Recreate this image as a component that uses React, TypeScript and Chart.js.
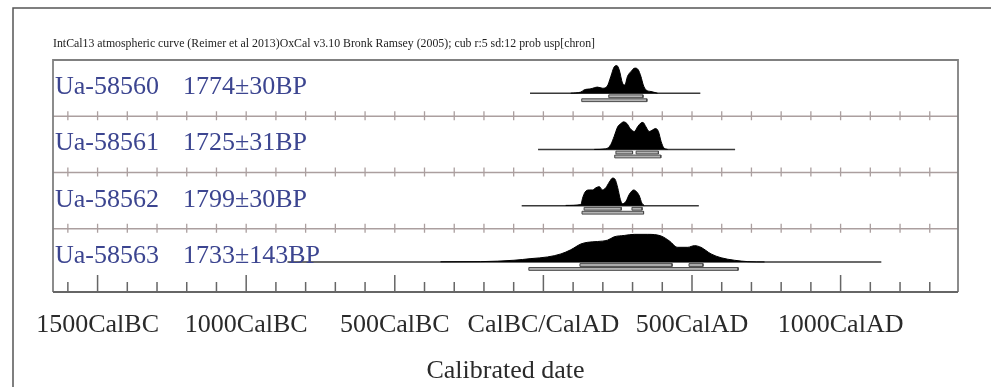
import { useEffect, useRef } from 'react';
import { Chart, registerables } from 'chart.js';
Chart.register(...registerables);

// ---- axis ----
const xMin = -1650;
const xMax = 1395;
const minorStep = 100;
const minorFrom = -1600;
const minorTo = 1300;
const majorTickValues = [-1500, -1000, -500, 0, 500, 1000];
const tickLabels = ['1500CalBC', '1000CalBC', '500CalBC', 'CalBC/CalAD', '500CalAD', '1000CalAD'];
const titleText = 'IntCal13 atmospheric curve (Reimer et al 2013)OxCal v3.10 Bronk Ramsey (2005); cub r:5 sd:12 prob usp[chron]';
const axisTitle = 'Calibrated date';

// ---- samples ----
const sampleIds = ['Ua-58560', 'Ua-58561', 'Ua-58562', 'Ua-58563'];
const sampleAges = ['1774±30BP', '1725±31BP', '1799±30BP', '1733±143BP'];

// probability distributions (calendar year AD, relative probability)
const years1 = [92, 126, 137, 160, 182, 199, 214, 227, 238, 247, 255, 266, 274, 283, 295, 308, 319, 328, 336, 345, 362, 384];
const prob1 = [0, 0.04, 0.12, 0.16, 0.22, 0.18, 0.24, 0.61, 0.95, 1, 0.85, 0.37, 0.3, 0.61, 0.79, 0.91, 0.85, 0.61, 0.3, 0.12, 0.06, 0];

const years2 = [171, 210, 227, 238, 250, 261, 270, 281, 292, 306, 317, 328, 335, 345, 356, 368, 377, 387, 396, 405, 418];
const prob2 = [0, 0.02, 0.18, 0.47, 0.82, 0.94, 1, 0.94, 0.76, 0.65, 0.82, 0.96, 0.98, 0.82, 0.65, 0.71, 0.76, 0.65, 0.29, 0.06, 0];

const years3 = [75, 126, 132, 140, 154, 165, 177, 188, 199, 210, 222, 233, 241, 250, 259, 266, 278, 289, 304, 311, 323, 331, 339];
const prob3 = [0.01, 0.04, 0.28, 0.49, 0.57, 0.57, 0.65, 0.69, 0.57, 0.65, 0.86, 1, 0.96, 0.65, 0.22, 0.07, 0.16, 0.41, 0.57, 0.53, 0.35, 0.1, 0.01];

const years4 = [-346, -211, -99, -42, 14, 59, 92, 126, 148, 182, 216, 238, 272, 306, 351, 396, 424, 452, 486, 508, 530, 564, 598, 643, 688, 744];
const prob4 = [0.004, 0.01, 0.06, 0.12, 0.18, 0.29, 0.44, 0.65, 0.71, 0.74, 0.79, 0.91, 0.96, 1, 1, 0.94, 0.76, 0.53, 0.53, 0.59, 0.53, 0.29, 0.15, 0.06, 0.01, 0];

// extent of the plotted calibration (flat line)
const curveRanges = [[-45, 528], [-18, 645], [-73, 523], [-861, 1137]];

// highest probability ranges
const ranges68 = [[[220, 335]], [[244, 300], [312, 387]], [[137, 262], [298, 332]], [[123, 433], [490, 537]]];
const ranges95 = [[[129, 348]], [[240, 395]], [[130, 337]], [[-49, 655]]];

const allYears = [years1, years2, years3, years4];
const allProbs = [prob1, prob2, prob3, prob4];

const rowCount = 4;
const baseOffset = 0.41;
const peakHeight = 0.49;
const bar68Offset = 0.055;
const bar95Offset = 0.125;
const barThick = 0.05;

const serif = "'Liberation Serif', 'Times New Roman', serif";

function rowBase(i: number) {
  return rowCount - 1 - i + baseOffset;
}

function rect(x1: number, x2: number, yc: number) {
  return [
    { x: x1, y: yc + barThick / 2 },
    { x: x2, y: yc + barThick / 2 },
    { x: x2, y: yc - barThick / 2 },
    { x: x1, y: yc - barThick / 2 },
    { x: x1, y: yc + barThick / 2 },
  ];
}

const decor = {
  id: 'oxcalDecor',
  beforeDraw(chart: any) {
    const { ctx, chartArea: a, scales } = chart;
    const xs = scales.x;
    const ys = scales.y;
    ctx.save();
    ctx.fillStyle = '#fff';
    ctx.fillRect(0, 0, chart.width, chart.height);
    // outer frame
    ctx.strokeStyle = '#555';
    ctx.lineWidth = 1.5;
    ctx.beginPath();
    ctx.moveTo(13, chart.height);
    ctx.lineTo(13, 8);
    ctx.lineTo(chart.width, 8);
    ctx.stroke();
    // title
    ctx.fillStyle = '#222';
    let fs = 11;
    ctx.font = `${fs}px ${serif}`;
    const w = ctx.measureText(titleText).width;
    fs = fs * 543 / w;
    ctx.font = `${fs}px ${serif}`;
    ctx.textBaseline = 'alphabetic';
    ctx.textAlign = 'left';
    ctx.fillText(titleText, a.left, a.top - 13);
    // row separators with ticks
    ctx.strokeStyle = '#ab9f9f';
    ctx.lineWidth = 1.3;
    for (let r = 1; r < rowCount; r++) {
      const y = ys.getPixelForValue(r);
      ctx.beginPath();
      ctx.moveTo(a.left, y);
      ctx.lineTo(a.right, y);
      for (let v = minorFrom; v <= minorTo; v += minorStep) {
        const x = xs.getPixelForValue(v);
        ctx.moveTo(x, y - 5);
        ctx.lineTo(x, y + 4);
      }
      ctx.stroke();
    }
    ctx.restore();
  },
  afterDraw(chart: any) {
    const { ctx, chartArea: a, scales } = chart;
    const xs = scales.x;
    const ys = scales.y;
    ctx.save();
    // plot border
    ctx.strokeStyle = '#808080';
    ctx.lineWidth = 1.8;
    ctx.beginPath();
    ctx.moveTo(a.left, a.bottom);
    ctx.lineTo(a.left, a.top);
    ctx.lineTo(a.right, a.top);
    ctx.lineTo(a.right, a.bottom);
    ctx.stroke();
    // bottom axis
    ctx.strokeStyle = '#666';
    ctx.lineWidth = 2;
    ctx.beginPath();
    ctx.moveTo(a.left, a.bottom);
    ctx.lineTo(a.right, a.bottom);
    ctx.stroke();
    ctx.lineWidth = 1.5;
    ctx.beginPath();
    for (let v = minorFrom; v <= minorTo; v += minorStep) {
      const x = xs.getPixelForValue(v);
      const len = majorTickValues.includes(v) ? 17 : 10;
      ctx.moveTo(x, a.bottom);
      ctx.lineTo(x, a.bottom - len);
    }
    ctx.stroke();
    // tick labels
    ctx.fillStyle = '#2a2a2a';
    ctx.font = `26px ${serif}`;
    ctx.textAlign = 'center';
    ctx.textBaseline = 'alphabetic';
    majorTickValues.forEach((v, k) => {
      ctx.fillText(tickLabels[k], xs.getPixelForValue(v), a.bottom + 40);
    });
    ctx.fillText(axisTitle, (a.left + a.right) / 2, a.bottom + 86);
    // row labels
    ctx.fillStyle = '#3c4590';
    ctx.textAlign = 'left';
    for (let i = 0; i < rowCount; i++) {
      const y = ys.getPixelForValue(rowBase(i)) + 1;
      ctx.fillText(sampleIds[i], a.left + 2, y);
      ctx.fillText(sampleAges[i], a.left + 130, y);
    }
    ctx.restore();
  },
};

export default function App() {
  const ref = useRef<HTMLCanvasElement>(null);
  useEffect(() => {
    if (!ref.current) return;
    const datasets: any[] = [];
    for (let i = 0; i < rowCount; i++) {
      const base = rowBase(i);
      ranges68[i].forEach((r) => {
        datasets.push({
          data: rect(r[0], r[1], base - bar68Offset),
          borderColor: '#4a4a4a', borderWidth: 1, backgroundColor: '#b4b4b4', fill: 'shape',
          pointRadius: 0, order: 0,
        });
      });
      ranges95[i].forEach((r) => {
        datasets.push({
          data: rect(r[0], r[1], base - bar95Offset),
          borderColor: '#4a4a4a', borderWidth: 1, backgroundColor: '#b4b4b4', fill: 'shape',
          pointRadius: 0, order: 0,
        });
      });
      datasets.push({
        data: allYears[i].map((x, k) => ({ x, y: base + allProbs[i][k] * peakHeight })),
        borderColor: '#000', borderWidth: 1, backgroundColor: '#000',
        fill: { value: base }, pointRadius: 0, cubicInterpolationMode: 'monotone', order: 1,
      });
      datasets.push({
        data: curveRanges[i].map((x) => ({ x, y: base })),
        borderColor: '#3a3a3a', borderWidth: 1.5, fill: false, pointRadius: 0, order: 2,
      });
    }
    const chart = new Chart(ref.current, {
      type: 'line',
      data: { datasets },
      options: {
        animation: false,
        responsive: false,
        parsing: true,
        layout: { padding: { left: 53, top: 60, right: 33, bottom: 95 } },
        plugins: { legend: { display: false }, tooltip: { enabled: false } },
        scales: {
          x: { type: 'linear', min: xMin, max: xMax, display: false },
          y: { type: 'linear', min: -0.125, max: rowCount, display: false },
        },
      },
      plugins: [decor],
    });
    return () => chart.destroy();
  }, []);
  return (
    <div style={{ position: 'fixed', left: 0, top: 0, width: 991, height: 387, background: '#fff' }}>
      <canvas ref={ref} width={991} height={387} style={{ width: 991, height: 387 }} />
    </div>
  );
}
